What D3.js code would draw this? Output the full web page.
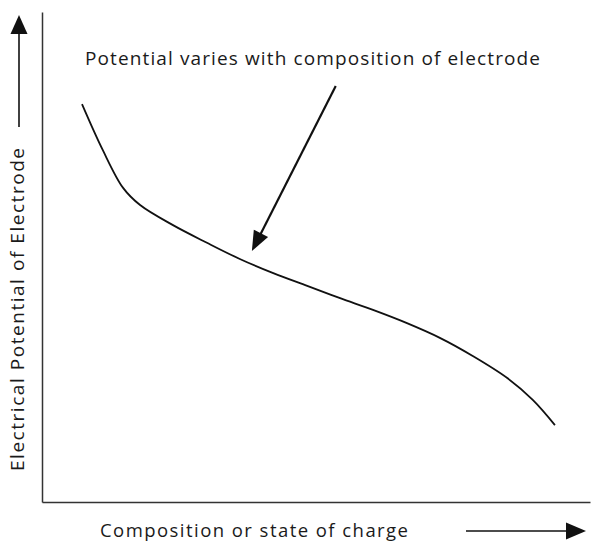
<!DOCTYPE html>
<html>
<head>
<meta charset="utf-8">
<script src="https://cdn.jsdelivr.net/npm/d3@7"></script>
<style>
  html, body { margin: 0; padding: 0; background: #fff; }
  svg { display: block; }
  text { font-family: "Open Sans", "DejaVu Sans", sans-serif; fill: #1a1a1a; }
</style>
</head>
<body>
<script>
// Composition (0..100) and electrode potential (0..100, arbitrary units)
const composition = [7.3, 11.1, 14.8, 17.9, 23.9, 30.1, 36.1, 42.2, 48.4, 54.4, 60.4, 66.6, 72.6, 78.6, 84.9, 89.6, 93.6];
const potential   = [81.2, 71.8, 64.1, 60.6, 56.5, 52.9, 49.6, 46.7, 44.1, 41.6, 39.2, 36.5, 33.5, 29.8, 25.3, 20.8, 15.7];

// annotation arrow: start and tip, in data units
const annotFrom = [53.6, 84.9];
const annotTo   = [38.3, 51.2];
const annotText = "Potential varies with composition of electrode";
const xLabel = "Composition or state of charge";
const yLabel = "Electrical Potential of Electrode";

const W = 594, H = 543;
const svg = d3.select("body").append("svg").attr("width", W).attr("height", H);

const x = d3.scaleLinear().domain([0, 100]).range([42, 590]);
const y = d3.scaleLinear().domain([0, 100]).range([502, 12]);

// axes (no ticks)
svg.append("g").attr("transform", `translate(${x(0)},0)`)
  .call(d3.axisLeft(y).tickValues([]).tickSizeOuter(0));
svg.append("g").attr("transform", `translate(0,${y(0)})`)
  .call(d3.axisBottom(x).tickValues([]).tickSizeOuter(0));
svg.selectAll(".domain").attr("stroke", "#333").attr("stroke-width", 1.5);

// curve
const pts = composition.map((c, i) => [c, potential[i]]);
svg.append("path")
  .datum(pts)
  .attr("fill", "none")
  .attr("stroke", "#111")
  .attr("stroke-width", 1.8)
  .attr("d", d3.line().x(d => x(d[0])).y(d => y(d[1])).curve(d3.curveCatmullRom.alpha(0.5)));

// helper for arrows
function arrow(x1, y1, x2, y2, headLen, headHalf, width) {
  const dx = x2 - x1, dy = y2 - y1, L = Math.hypot(dx, dy);
  const ux = dx / L, uy = dy / L;
  const bx = x2 - ux * headLen, by = y2 - uy * headLen;
  svg.append("line")
    .attr("x1", x1).attr("y1", y1).attr("x2", bx + ux * 1).attr("y2", by + uy * 1)
    .attr("stroke", "#111").attr("stroke-width", width);
  svg.append("polygon")
    .attr("points", [[x2, y2], [bx - uy * headHalf, by + ux * headHalf], [bx + uy * headHalf, by - ux * headHalf]].map(p => p.join(",")).join(" "))
    .attr("fill", "#111");
}

// annotation
arrow(x(annotFrom[0]), y(annotFrom[1]), x(annotTo[0]), y(annotTo[1]), 20, 8, 2.2);
svg.append("text")
  .attr("x", 85).attr("y", 65)
  .attr("font-size", 19)
  .attr("textLength", 455).attr("lengthAdjust", "spacing")
  .text(annotText);

// x label + arrow
svg.append("text")
  .attr("x", 100).attr("y", 537)
  .attr("font-size", 18.5)
  .attr("textLength", 308).attr("lengthAdjust", "spacing")
  .text(xLabel);
arrow(466, 531, 586, 531, 20, 8.5, 1.6);

// y label + arrow
svg.append("text")
  .attr("transform", "translate(24,471) rotate(-90)")
  .attr("font-size", 19)
  .attr("textLength", 323).attr("lengthAdjust", "spacing")
  .text(yLabel);
arrow(19, 127, 19, 15, 19, 8.5, 1.6);
</script>
</body>
</html>
